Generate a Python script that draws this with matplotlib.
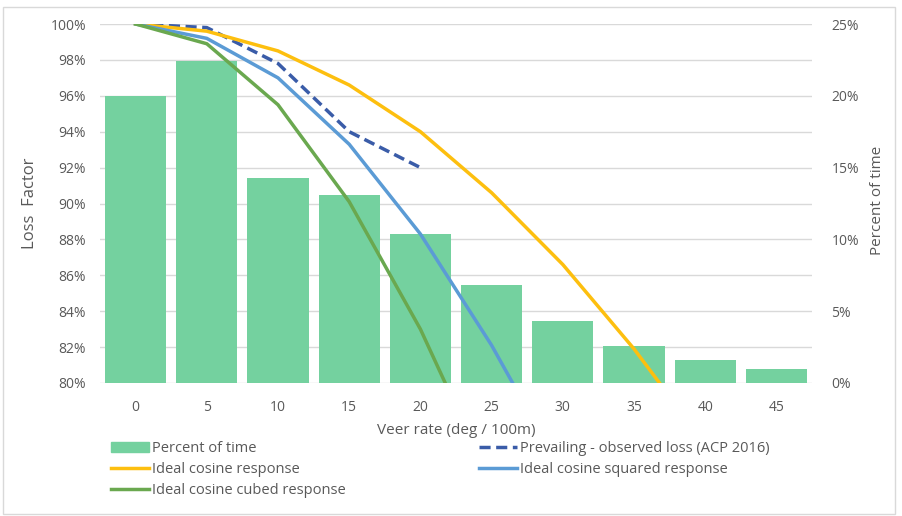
import matplotlib.pyplot as plt
from matplotlib.patches import Rectangle
from matplotlib.ticker import FuncFormatter, MultipleLocator

plt.rcParams['font.family'] = ['Open Sans', 'DejaVu Sans']

veer = [0, 5, 10, 15, 20, 25, 30, 35, 40, 45]
pct_time = [20.0, 22.4, 14.3, 13.1, 10.4, 6.8, 4.3, 2.6, 1.6, 1.0]

prevailing = [100.0, 99.8, 97.8, 94.0, 92.0]
cos1 = [100.0, 99.6, 98.5, 96.6, 94.0, 90.6, 86.6, 81.9, 76.6, 70.7]
cos2 = [100.0, 99.2, 97.0, 93.3, 88.3, 82.1, 75.0, 67.1, 58.7, 50.0]
cos3 = [100.0, 98.9, 95.5, 90.1, 83.0, 74.4, 65.0, 54.9, 44.9, 35.4]

W, H = 903, 516
fig = plt.figure(figsize=(W / 100, H / 100), dpi=100)
fig.patches.append(Rectangle((3 / W, 1 - 514 / H), 892 / W, 507 / H, transform=fig.transFigure,
                             fill=False, edgecolor='#d9d9d9', lw=1))

ax2 = fig.add_axes([100 / W, 1 - 383 / H, 712 / W, 359 / H])
ax = ax2.twinx()
# bars on the right axis sit behind the lines on the left axis
ax2.yaxis.tick_right()
ax2.yaxis.set_label_position('right')
ax.yaxis.tick_left()
ax.yaxis.set_label_position('left')

gray = '#595959'
x = list(range(len(veer)))
ax2.bar(x, pct_time, width=0.86, color='#74d19f', zorder=2)
ax2.set_ylim(0, 25)
ax2.yaxis.set_major_locator(MultipleLocator(5))
ax2.yaxis.set_major_formatter(FuncFormatter(lambda v, p: f"{v:.0f}%"))
ax2.set_xlim(-0.5, 9.5)
ax2.set_xticks(x)
ax2.set_xticklabels([str(v) for v in veer])
for yv in [0, 2.5, 5, 7.5, 10, 12.5, 15, 17.5, 20, 22.5, 25]:
    ax2.axhline(yv, color='#d9d9d9', lw=1, zorder=1)

ax.set_ylim(80, 100)
ax.yaxis.set_major_locator(MultipleLocator(2))
ax.yaxis.set_major_formatter(FuncFormatter(lambda v, p: f"{v:.0f}%"))
l_prev, = ax.plot(x[:len(prevailing)], prevailing, color='#3a5ca8', lw=2.5, ls=(0, (3.2, 1.6)))
l1, = ax.plot(x, cos1, color='#fdbf0f', lw=2.5)
l2, = ax.plot(x, cos2, color='#5b9bd5', lw=2.5)
l3, = ax.plot(x, cos3, color='#6aa84f', lw=2.5)

for a in (ax, ax2):
    for s in a.spines.values():
        s.set_visible(False)
    a.tick_params(length=0, colors=gray, labelsize=10)
ax2.tick_params(axis='x', pad=12)
ax.tick_params(axis='y', pad=10)
ax2.tick_params(axis='y', pad=14)

ax.set_ylabel("Loss  Factor", fontsize=12, color=gray)
ax.yaxis.set_label_coords(-0.087, 0.5)
ax2.set_ylabel("Percent of time", fontsize=11, color=gray)
ax2.yaxis.set_label_coords(1.081, 0.51)
ax2.set_xlabel("Veer rate (deg / 100m)", fontsize=11, color=gray, labelpad=6)

patch = Rectangle((0, 0), 1, 1, color='#74d19f')
kw = dict(frameon=False, fontsize=10.5, labelcolor=gray, handlelength=2.6, handletextpad=0.2,
          labelspacing=0.42, borderaxespad=0, borderpad=0)
fig.legend([patch, l1, l3], ["Percent of time", "Ideal cosine response", "Ideal cosine cubed response"],
           loc='upper left', bbox_to_anchor=(111 / W, 1 - 441 / H), **kw)
fig.legend([l_prev, l2], ["Prevailing - observed loss (ACP 2016)", "Ideal cosine squared response"],
           loc='upper left', bbox_to_anchor=(479 / W, 1 - 441 / H), **kw)

fig.savefig('out.png', dpi=100)
